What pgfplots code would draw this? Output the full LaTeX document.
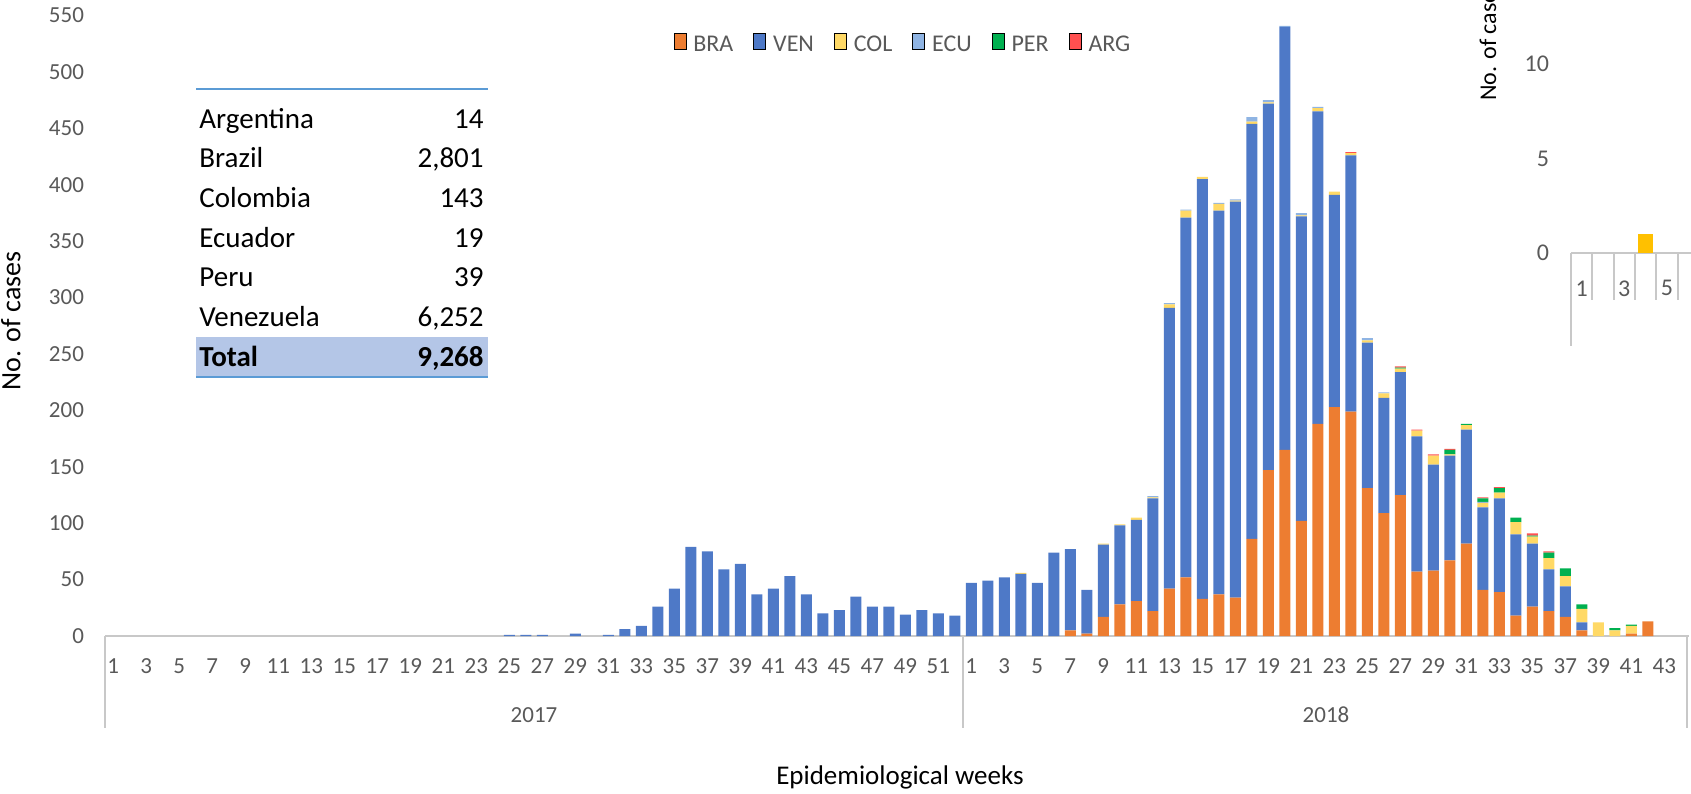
\documentclass[border=0pt]{standalone}
\usepackage{pgfplots}
\pgfplotsset{compat=1.18}
\usepackage{pgfplotstable}
\usepackage{fontspec}
\setmainfont{Carlito}
\definecolor{bra}{HTML}{ED7D31}
\definecolor{ven}{HTML}{4E79C7}
\definecolor{col}{HTML}{FFD966}
\definecolor{ecu}{HTML}{8FB4E3}
\definecolor{per}{HTML}{00B050}
\definecolor{arg}{HTML}{FF5050}
\definecolor{tickgray}{HTML}{595959}
\definecolor{axgray}{HTML}{C8C8C8}
\definecolor{tblue}{HTML}{5B9BD5}
\definecolor{tshade}{HTML}{B4C6E7}
\definecolor{gold}{HTML}{FFC000}

\pgfplotstableread{
x BRA VEN COL ECU PER ARG
1 0 0 0 0 0 0
2 0 0 0 0 0 0
3 0 0 0 0 0 0
4 0 0 0 0 0 0
5 0 0 0 0 0 0
6 0 0 0 0 0 0
7 0 0 0 0 0 0
8 0 0 0 0 0 0
9 0 0 0 0 0 0
10 0 0 0 0 0 0
11 0 0 0 0 0 0
12 0 0 0 0 0 0
13 0 0 0 0 0 0
14 0 0 0 0 0 0
15 0 0 0 0 0 0
16 0 0 0 0 0 0
17 0 0 0 0 0 0
18 0 0 0 0 0 0
19 0 0 0 0 0 0
20 0 0 0 0 0 0
21 0 0 0 0 0 0
22 0 0 0 0 0 0
23 0 0 0 0 0 0
24 0 0 0 0 0 0
25 0 1 0 0 0 0
26 0 1 0 0 0 0
27 0 1 0 0 0 0
28 0 0 0 0 0 0
29 0 2 0 0 0 0
30 0 0 0 0 0 0
31 0 1 0 0 0 0
32 0 6 0 0 0 0
33 0 9 0 0 0 0
34 0 26 0 0 0 0
35 0 42 0 0 0 0
36 0 79 0 0 0 0
37 0 75 0 0 0 0
38 0 59 0 0 0 0
39 0 64 0 0 0 0
40 0 37 0 0 0 0
41 0 42 0 0 0 0
42 0 53 0 0 0 0
43 0 37 0 0 0 0
44 0 20 0 0 0 0
45 0 23 0 0 0 0
46 0 35 0 0 0 0
47 0 26 0 0 0 0
48 0 26 0 0 0 0
49 0 19 0 0 0 0
50 0 23 0 0 0 0
51 0 20 0 0 0 0
52 0 18 0 0 0 0
53 0 47 0 0 0 0
54 0 49 0 0 0 0
55 0 52 0 0 0 0
56 0 55 1 0 0 0
57 0 47 0 0 0 0
58 0 74 0 0 0 0
59 5 72 0 0 0 0
60 2 39 0 0 0 0
61 17 64 1 0 0 0
62 28 70 1 0 0 0
63 31 72 2 0 0 0
64 22 100 1 1 0 0
65 42 249 3 1 0 0
66 52 319 6 1 0 0
67 33 372 2 0 0 0
68 37 340 6 1 0 0
69 34 351 1 1 0 0
70 86 368 2 4 0 0
71 147 325 1 2 0 0
72 165 375 0 1 0 0
73 102 270 1 2 0 0
74 188 277 3 1 0 0
75 203 188 3 0 0 0
76 199 227 2 0 0 1
77 131 129 2 2 0 0
78 109 102 4 1 0 0
79 125 109 3 0 1 1
80 57 120 5 0 0 1
81 58 94 8 0 0 1
82 67 93 1 0 4 1
83 82 101 4 0 1 0
84 41 73 4 1 3 1
85 39 83 5 0 4 1
86 18 72 11 0 4 0
87 26 56 6 0 1 2
88 22 37 10 0 5 1
89 17 27 9 0 7 0
90 5 7 12 0 4 0
91 0 0 12 0 0 0
92 0 0 5 0 2 0
93 2 0 7 0 1 0
94 13 0 0 0 0 0
95 0 0 0 0 0 0
96 0 0 0 0 0 0
}\casedata

\pgfplotsset{/pgfplots/ybar legend/.style={/pgfplots/legend image code/.code={\fill[##1] (0pt,-3.6pt) rectangle (7.2pt,3.6pt);}}}

\begin{document}
\begin{tikzpicture}
\path[use as bounding box] (0,0) rectangle (845.5pt,396.5pt);
\clip (0,0) rectangle (845.5pt,396.5pt);

% y label and x label
\node[rotate=90, font=\fontsize{14}{16}\selectfont] at (5.5pt,236pt) {No. of cases};
\node[font=\fontsize{13.5}{15}\selectfont] at (450pt,8pt) {Epidemiological weeks};

\begin{axis}[
  at={(52.5pt,78.5pt)}, anchor=south west,
  scale only axis, width=792pt, height=310.2pt,
  xmin=0.5, xmax=96.5, ymin=0, ymax=550,
  ybar stacked, bar width=0.667,
  axis x line*=bottom, axis y line*=left,
  x axis line style={-, draw=axgray, line width=1pt},
  y axis line style={draw=none},
  tick style={draw=none},
  ytick={0,50,...,550},
  xtick={1,3,...,95},
  xticklabels={1,3,5,7,9,11,13,15,17,19,21,23,25,27,29,31,33,35,37,39,41,43,45,47,49,51,1,3,5,7,9,11,13,15,17,19,21,23,25,27,29,31,33,35,37,39,41,43},
  tick label style={font=\fontsize{11.5}{13}\selectfont, text=tickgray},
  yticklabel style={xshift=-7pt},
  xticklabel style={yshift=-8pt},
  /pgf/number format/assume math mode=true,
  clip=false,
  legend columns=6,
  legend style={at={(0.5044,0.9526)}, anchor=center, draw=none, fill=none,
    font=\fontsize{12}{14}\selectfont, text=tickgray,
    /tikz/every odd column/.append style={column sep=1.5pt},
    /tikz/every even column/.append style={column sep=8pt}},
]
\addplot[fill=bra, draw=none] table[x=x,y=BRA]{\casedata}; \addlegendentry{BRA}
\addplot[fill=ven, draw=none] table[x=x,y=VEN]{\casedata}; \addlegendentry{VEN}
\addplot[fill=col, draw=none] table[x=x,y=COL]{\casedata}; \addlegendentry{COL}
\addplot[fill=ecu, draw=none] table[x=x,y=ECU]{\casedata}; \addlegendentry{ECU}
\addplot[fill=per, draw=none] table[x=x,y=PER]{\casedata}; \addlegendentry{PER}
\addplot[fill=arg, draw=none] table[x=x,y=ARG]{\casedata}; \addlegendentry{ARG}

\draw[axgray, line width=1pt] (axis cs:0.5,0) -- ++(0pt,-46pt);
\draw[axgray, line width=1pt] (axis cs:52.5,0) -- ++(0pt,-46pt);
\draw[axgray, line width=1pt] (axis cs:96.4,0) -- ++(0pt,-46pt);
\node[font=\fontsize{11.5}{13}\selectfont, text=tickgray] at ([yshift=-39.5pt]axis cs:26.5,0) {2017};
\node[font=\fontsize{11.5}{13}\selectfont, text=tickgray] at ([yshift=-39.5pt]axis cs:74.5,0) {2018};
\end{axis}

% summary table
\fill[tshade] (98.2pt,208pt) rectangle (243.75pt,228pt);
\draw[tblue, line width=1pt] (98.2pt,352pt) -- (243.75pt,352pt);
\draw[tblue, line width=1pt] (98.2pt,208pt) -- (243.75pt,208pt);
\begin{scope}[every node/.style={inner sep=0pt, font=\fontsize{14.5}{16}\selectfont}]
\node[anchor=base west] at (99.5pt,332.35pt) {Argentina};
\node[anchor=base east] at (242pt,332.35pt) {14};
\node[anchor=base west] at (99.5pt,312.5pt) {Brazil};
\node[anchor=base east] at (242pt,312.5pt) {2,801};
\node[anchor=base west] at (99.5pt,292.65pt) {Colombia};
\node[anchor=base east] at (242pt,292.65pt) {143};
\node[anchor=base west] at (99.5pt,272.85pt) {Ecuador};
\node[anchor=base east] at (242pt,272.85pt) {19};
\node[anchor=base west] at (99.5pt,253pt) {Peru};
\node[anchor=base east] at (242pt,253pt) {39};
\node[anchor=base west] at (99.5pt,233.15pt) {Venezuela};
\node[anchor=base east] at (242pt,233.15pt) {6,252};
\node[anchor=base west] at (99.5pt,213.35pt) {\bfseries Total};
\node[anchor=base east] at (242pt,213.35pt) {\bfseries 9,268};
\end{scope}

% inset chart (partly outside the frame, as in the source)
\node[rotate=90, font=\fontsize{12}{14}\selectfont] at (744pt,375.75pt) {No. of cases};
\begin{axis}[
  at={(785.5pt,270pt)}, anchor=south west,
  scale only axis, width=63.9pt, height=141.75pt,
  xmin=0.5, xmax=6.5, ymin=0, ymax=15,
  ybar, bar width=0.675,
  axis x line*=bottom, axis y line*=left,
  x axis line style={-, draw=axgray, line width=1pt},
  y axis line style={draw=none},
  tick style={draw=none},
  ytick={0,5,10},
  xtick={1,3,5},
  tick label style={font=\fontsize{12}{14}\selectfont, text=tickgray},
  yticklabel style={xshift=-7.5pt},
  xticklabel style={yshift=-6pt},
  /pgf/number format/assume math mode=true,
  clip=false,
]
\addplot[fill=gold, draw=none] coordinates {(4,1)};
\draw[axgray, line width=1pt] (axis cs:0.5,0) -- ++(0pt,-46.5pt);
\draw[axgray, line width=1pt] (axis cs:1.5,0) -- ++(0pt,-23.5pt);
\draw[axgray, line width=1pt] (axis cs:2.5,0) -- ++(0pt,-23.5pt);
\draw[axgray, line width=1pt] (axis cs:3.5,0) -- ++(0pt,-23.5pt);
\draw[axgray, line width=1pt] (axis cs:4.5,0) -- ++(0pt,-23.5pt);
\draw[axgray, line width=1pt] (axis cs:5.5,0) -- ++(0pt,-23.5pt);
\draw[axgray, line width=1pt] (axis cs:6.5,0) -- ++(0pt,-23.5pt);
\end{axis}
\end{tikzpicture}
\end{document}
